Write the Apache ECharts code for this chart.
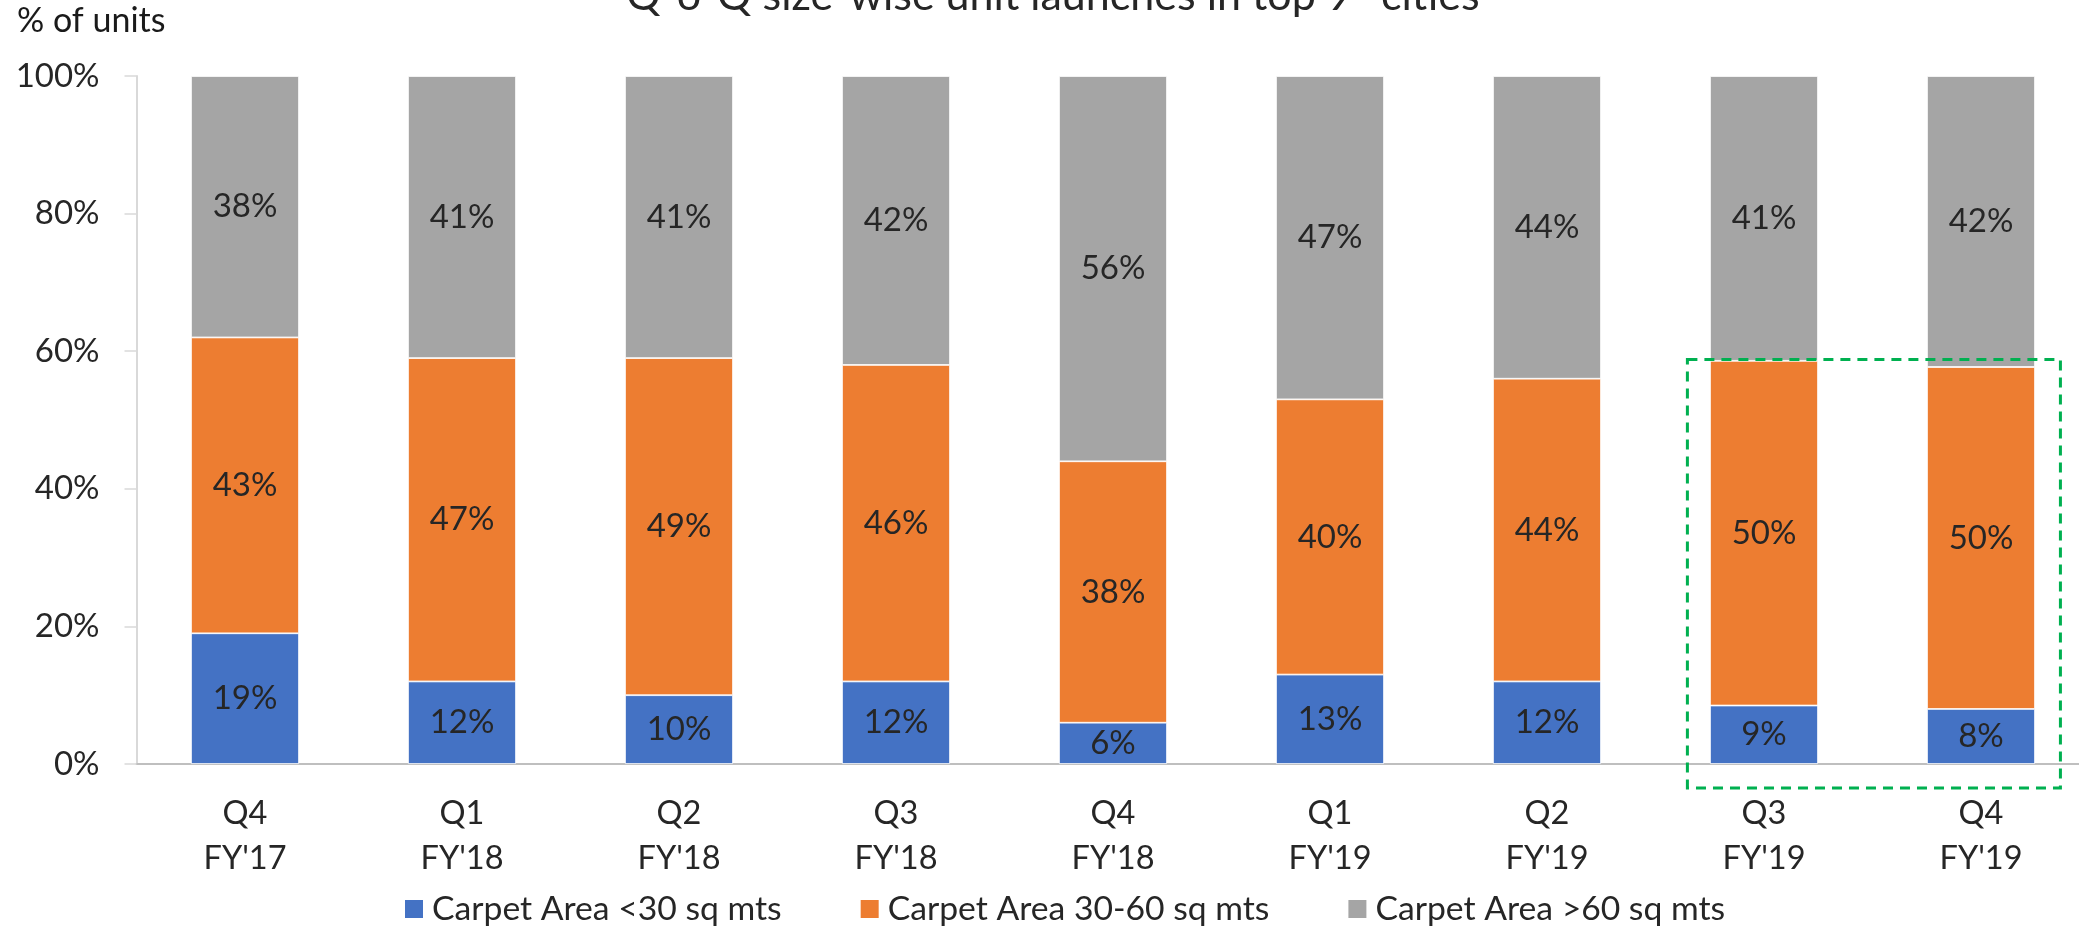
<!DOCTYPE html>
<html>
<head>
<meta charset="utf-8">
<script src="https://cdn.jsdelivr.net/npm/echarts@6/dist/echarts.min.js"></script>
<style>
html,body{margin:0;padding:0;background:#fff;}
#chart{width:2079px;height:928px;}
</style>
</head>
<body>
<div id="chart"></div>
<script>
const categories = ["Q4\nFY'17","Q1\nFY'18","Q2\nFY'18","Q3\nFY'18","Q4\nFY'18","Q1\nFY'19","Q2\nFY'19","Q3\nFY'19","Q4\nFY'19"];
const seriesNames = ["Carpet Area <30 sq mts","Carpet Area 30-60 sq mts","Carpet Area >60 sq mts"];
const small = [19, 12, 10, 12, 6, 13, 12, 8.5, 8.0];
const medium = [43, 47, 49, 46, 38, 40, 44, 50.1, 49.7];
const large = [38, 41, 41, 42, 56, 47, 44, 41.4, 42.3];
const yTicks = [0, 20, 40, 60, 80, 100];
const colors = ["#4472C4", "#ED7D31", "#A5A5A5"];
const titleText = "Q-o-Q size-wise unit launches in top 9* cities";
const yAxisName = "% of units";
const highlightFrom = 7, highlightTo = 8;

const FONT = "Lato";
const chart = echarts.init(document.getElementById('chart'));
const values = [small, medium, large];
const option = {
  animation: false,
  backgroundColor: '#fff',
  textStyle: { fontFamily: FONT },
  title: {
    text: titleText,
    left: 1048, textAlign: 'center',
    top: -30,
    textStyle: { fontFamily: FONT, fontSize: 43, fontWeight: 'normal', color: '#262626' }
  },
  legend: {
    data: seriesNames,
    left: 398, top: 887,
    itemWidth: 20, itemHeight: 20, itemGap: 77,
    icon: 'rect',
    textStyle: { fontFamily: FONT, fontSize: 33.7, color: '#262626', padding: [0, 0, 0, 3] }
  },
  grid: { left: 136.5, width: 1953, top: 76, height: 688, containLabel: false, outerBoundsMode: 'none' },
  xAxis: {
    type: 'category',
    data: categories,
    axisLine: { lineStyle: { color: '#BFBFBF', width: 2 } },
    axisTick: { show: false },
    axisLabel: { fontFamily: FONT, fontSize: 32.5, color: '#262626', lineHeight: 45, margin: 27 }
  },
  yAxis: {
    type: 'value',
    min: 0, max: 100, interval: 20,
    splitLine: { show: false },
    axisLine: { show: true, lineStyle: { color: '#D9D9D9', width: 2 } },
    axisTick: { show: true, length: 12, lineStyle: { color: '#D9D9D9', width: 1.5 } },
    axisLabel: {
      fontFamily: FONT, fontSize: 33, color: '#262626', margin: 37,
      formatter: v => yTicks.includes(v) ? v + '%' : ''
    }
  },
  series: seriesNames.map((name, i) => ({
    name, type: 'bar', stack: 'total', barWidth: 108,
    data: values[i],
    itemStyle: { color: colors[i], borderColor: '#ffffff', borderWidth: 0.8 },
    label: {
      show: true, position: 'inside',
      fontFamily: FONT, fontSize: 33, color: '#262626',
      formatter: p => Math.round(p.value) + '%'
    }
  }))
};
chart.setOption(option);

// dashed highlight box around the last two quarters
const band = chart.convertToPixel({ xAxisIndex: 0 }, 1) - chart.convertToPixel({ xAxisIndex: 0 }, 0);
const x1 = chart.convertToPixel({ xAxisIndex: 0 }, highlightFrom) - 0.353 * band;
const x2 = chart.convertToPixel({ xAxisIndex: 0 }, highlightTo) + 0.366 * band;
const y1 = chart.convertToPixel({ yAxisIndex: 0 }, small[highlightFrom] + medium[highlightFrom] + 0.2);
const y2 = chart.convertToPixel({ yAxisIndex: 0 }, 0) + 24;
chart.setOption({
  graphic: [{
    type: 'text', left: 17, top: 4,
    style: { text: yAxisName, fontFamily: FONT, fontSize: 34, fill: '#1a1a1a' }
  }, {
    type: 'rect', z: 100,
    shape: { x: x1, y: y1, width: x2 - x1, height: y2 - y1 },
    style: { fill: 'none', stroke: '#00B050', lineWidth: 3, lineDash: [10, 7] }
  }]
});
</script>
</body>
</html>
